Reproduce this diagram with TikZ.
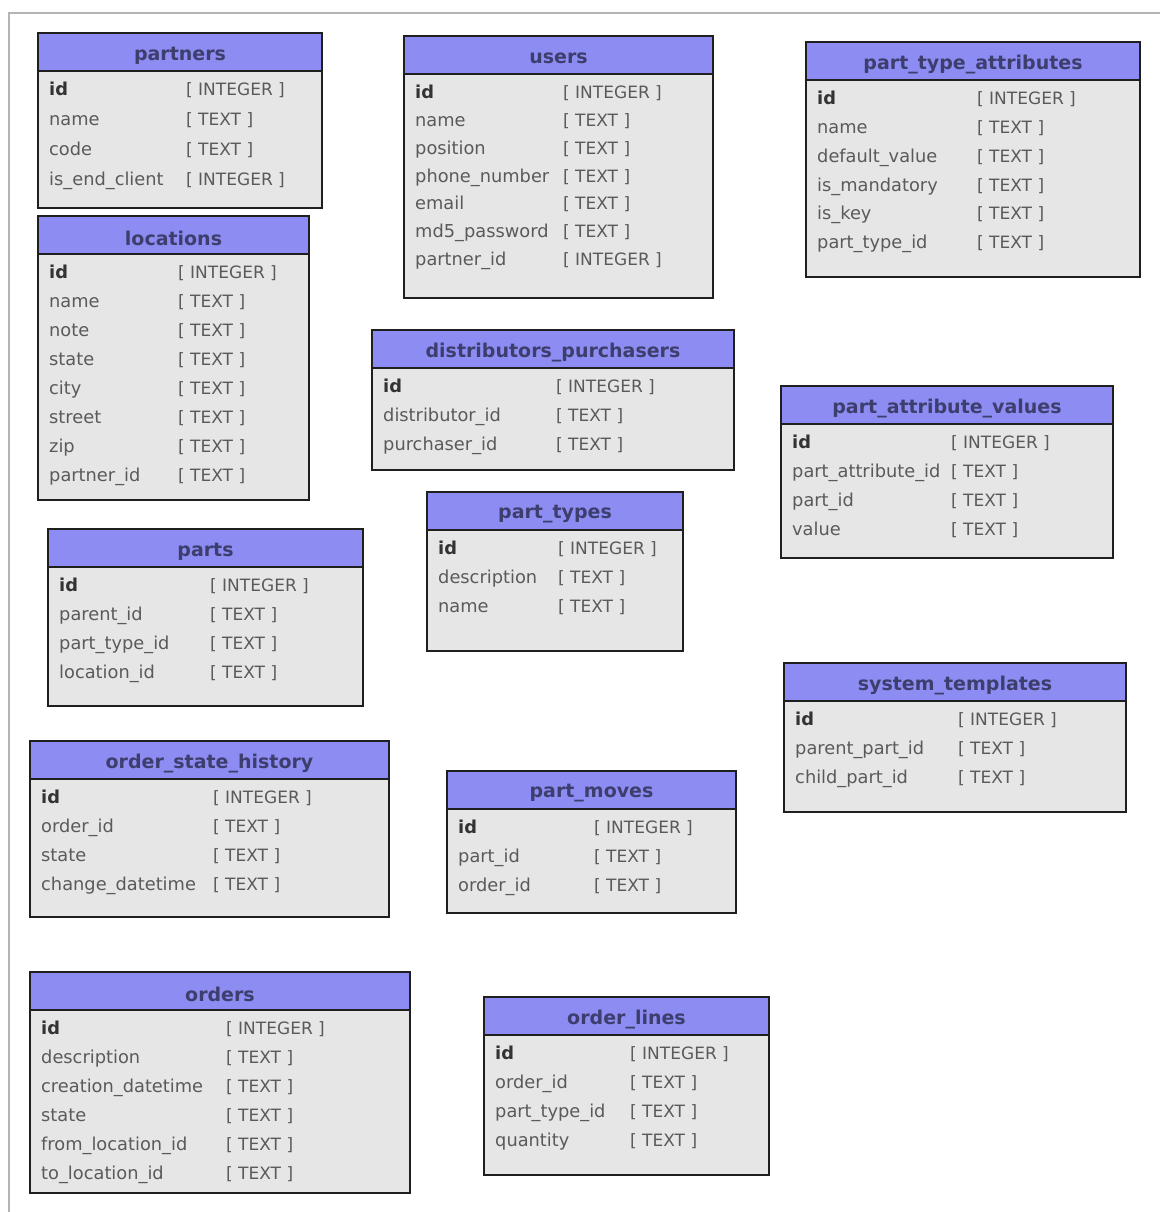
\documentclass[tikz,border=0pt]{standalone}
\usepackage{fontspec}
\setmainfont{DejaVu Sans}
\usetikzlibrary{calc}

\definecolor{headfill}{HTML}{8C8CF2}
\definecolor{bodyfill}{HTML}{E6E6E6}
\definecolor{titlecol}{HTML}{3E3E6E}
\definecolor{fieldcol}{HTML}{5A5A5A}
\definecolor{keycol}{HTML}{333333}
\definecolor{framecol}{HTML}{B4B4B4}

\newcommand{\tInt}{[ INTEGER ]}
\newcommand{\tTxt}{[ TEXT ]}

\tikzset{
  tablebox/.style={rectangle, inner sep=0pt, outer sep=0pt, fill=bodyfill, anchor=north west},
  tableedge/.style={line width=2.5pt, draw=black!88},
  headtitle/.style={font=\fontsize{19}{22}\selectfont\bfseries, text=titlecol, inner sep=0pt},
  fieldname/.style={font=\fontsize{17.8}{20}\selectfont, text=fieldcol, inner sep=0pt, anchor=mid west},
  fieldtype/.style={font=\fontsize{17}{20}\selectfont, text=fieldcol, inner sep=0pt, anchor=mid west},
  pageframe/.style={draw=framecol, line width=2pt}
}

% #1 node name, #2/#3 top-left, #4/#5 bottom-right, #6 x of type column,
% #7 row pitch, #8 table title, #9 list of field/type pairs
\newcommand{\dbtable}[9]{%
  \pgfmathsetmacro{\tblw}{#4-#2}%
  \pgfmathsetmacro{\tblh}{#5-#3}%
  \node[tablebox, minimum width=\tblw pt, minimum height=\tblh pt] (#1) at (#2,#3) {};
  \fill[headfill] (#1.north west) rectangle ($(#1.north east)+(0,38)$);
  \draw[tableedge] ($(#1.north west)+(0,38)$) -- ($(#1.north east)+(0,38)$);
  \draw[tableedge] (#1.north west) rectangle (#1.south east);
  \node[headtitle] (#1-title) at ($(#1.north)+(0,22.5)$) {#8};
  \foreach \fn/\ft [count=\i] in {#9} {
    \node[fieldname] (#1-name-\i) at (#2+11, #3+60+\i*#7-#7)
      {\ifnum\i=1 \bfseries\color{keycol}\fi\fn};
    \node[fieldtype] (#1-type-\i) at (#6, #3+60+\i*#7-#7) {\ft};
  }
}

\begin{document}
\begin{tikzpicture}[x=1pt, y=-1pt]
\useasboundingbox[fill=white] (0,0) rectangle (1160,1212);
\draw[pageframe] (1160,13) -- (9,13) -- (9,1212);

\dbtable{partners}{38}{33}{322}{208}{186}{30}{partners}
  {id/\tInt, name/\tTxt, code/\tTxt, is\_end\_client/\tInt}

\dbtable{locations}{38}{216}{309}{500}{178}{29}{locations}
  {id/\tInt, name/\tTxt, note/\tTxt, state/\tTxt, city/\tTxt,
   street/\tTxt, zip/\tTxt, partner\_id/\tTxt}

\dbtable{users}{404}{36}{713}{298}{563}{27.8}{users}
  {id/\tInt, name/\tTxt, position/\tTxt, phone\_number/\tTxt,
   email/\tTxt, md5\_password/\tTxt, partner\_id/\tInt}

\dbtable{pta}{806}{42}{1140}{277}{977}{28.8}{part\_type\_attributes}
  {id/\tInt, name/\tTxt, default\_value/\tTxt, is\_mandatory/\tTxt,
   is\_key/\tTxt, part\_type\_id/\tTxt}

\dbtable{dp}{372}{330}{734}{470}{556}{29}{distributors\_purchasers}
  {id/\tInt, distributor\_id/\tTxt, purchaser\_id/\tTxt}

\dbtable{pav}{781}{386}{1113}{558}{951}{29}{part\_attribute\_values}
  {id/\tInt, part\_attribute\_id/\tTxt, part\_id/\tTxt, value/\tTxt}

\dbtable{ptypes}{427}{492}{683}{651}{558}{29}{part\_types}
  {id/\tInt, description/\tTxt, name/\tTxt}

\dbtable{parts}{48}{529}{363}{706}{210}{29}{parts}
  {id/\tInt, parent\_id/\tTxt, part\_type\_id/\tTxt, location\_id/\tTxt}

\dbtable{systpl}{784}{663}{1126}{812}{958}{29}{system\_templates}
  {id/\tInt, parent\_part\_id/\tTxt, child\_part\_id/\tTxt}

\dbtable{osh}{30}{741}{389}{917}{213}{29}{order\_state\_history}
  {id/\tInt, order\_id/\tTxt, state/\tTxt, change\_datetime/\tTxt}

\dbtable{pmoves}{447}{771}{736}{913}{594}{29}{part\_moves}
  {id/\tInt, part\_id/\tTxt, order\_id/\tTxt}

\dbtable{orders}{30}{972}{410}{1193}{226}{29}{orders}
  {id/\tInt, description/\tTxt, creation\_datetime/\tTxt, state/\tTxt,
   from\_location\_id/\tTxt, to\_location\_id/\tTxt}

\dbtable{olines}{484}{997}{769}{1175}{630}{29}{order\_lines}
  {id/\tInt, order\_id/\tTxt, part\_type\_id/\tTxt, quantity/\tTxt}
\end{tikzpicture}
\end{document}
